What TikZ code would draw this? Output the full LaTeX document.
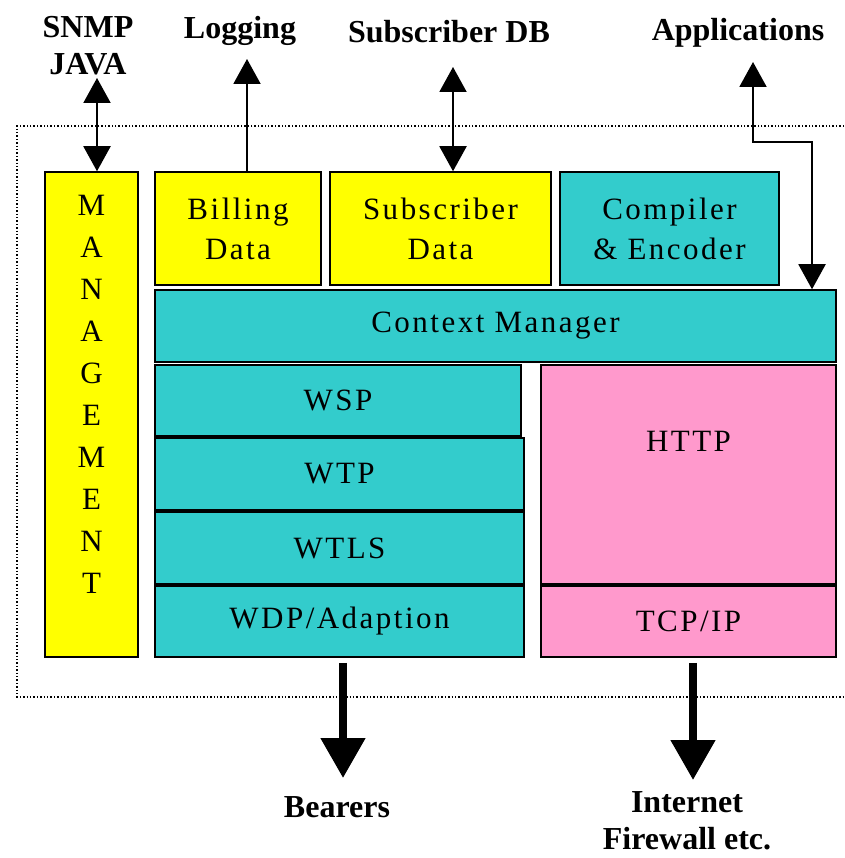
\documentclass[tikz,border=0pt]{standalone}
\usepackage{fontspec}
\setmainfont{Liberation Serif}
\newfontfamily\layerfont[LetterSpace=8]{Liberation Serif}
\usetikzlibrary{arrows.meta}

\definecolor{wapyellow}{RGB}{255,255,0}
\definecolor{wapteal}{RGB}{51,204,204}
\definecolor{wappink}{RGB}{255,153,204}

\begin{document}
\begin{tikzpicture}[x=1pt,y=-1pt,
        layer/.style={draw,line width=1.5pt,inner sep=0pt,align=center,
                      font=\fontsize{31}{40}\layerfont},
        outside/.style={align=center,font=\fontsize{32}{37}\selectfont\bfseries},
        thinline/.style={line width=2pt},
        headtip/.tip={Triangle[width=27pt,length=25pt]},
        fatarrow/.style={line width=8pt,-{Triangle[width=43pt,length=40pt]}}]
        \useasboundingbox (0,0) rectangle (844,858);

        \coordinate (snmpEnd) at (97,78);
        \coordinate (logEnd)  at (247,59);
        \coordinate (dbEnd)   at (453,67);
        \coordinate (appEnd)  at (753,62);
        \coordinate (appJog)  at (812,142);
        \coordinate (bearEnd) at (343,778);
        \coordinate (netEnd)  at (693,780);

        \draw[dotted,line width=1.4pt] (844,126) -- (17,126) -- (17,697) -- (844,697);

        \node[layer,fill=wapyellow,minimum width=93,minimum height=485] (mgmt) at (91.5,414.5) {};
        \node[align=center,inner sep=0pt,font=\fontsize{31}{42}\layerfont] (mgmttext) at (91.5,394)
              {M\\A\\N\\A\\G\\E\\M\\E\\N\\T};
        \node[layer,fill=wapyellow,minimum width=166,minimum height=113] (billing) at (238,228.5) {Billing\\Data};
        \node[layer,fill=wapyellow,minimum width=221,minimum height=113] (subs)    at (440.5,228.5) {Subscriber\\Data};
        \node[layer,fill=wapteal,minimum width=219,minimum height=113]   (comp)    at (669.5,228.5) {Compiler\\\& Encoder};
        \node[layer,fill=wapteal,minimum width=681,minimum height=72]    (ctx)     at (495.5,326) {Context Manager};
        \node[layer,fill=wapteal,minimum width=366,minimum height=71]    (wsp)     at (338,400.5) {WSP};
        \node[layer,fill=wapteal,minimum width=369,minimum height=72]    (wtp)     at (339.5,474) {WTP};
        \node[layer,fill=wapteal,minimum width=369,minimum height=72]    (wtls)    at (339.5,548) {WTLS};
        \node[layer,fill=wapteal,minimum width=369,minimum height=71]    (wdp)     at (339.5,621.5) {WDP/Adaption};
        \node[layer,fill=wappink,minimum width=295,minimum height=219,
              label={[yshift=33pt,font=\fontsize{31}{40}\layerfont]center:HTTP}] (http) at (688.5,474.5) {};
        \node[layer,fill=wappink,minimum width=295,minimum height=71]    (tcp)     at (688.5,621.5) {TCP/IP};

        \node[outside] (snmp)    at (88,46)   {SNMP\\JAVA};
        \node[outside] (logging) at (240,31)  {Logging};
        \node[outside] (subsdb)  at (449,32)  {Subscriber DB};
        \node[outside] (apps)    at (738,33)  {Applications};
        \node[outside] (bearers) at (337,807) {Bearers};
        \node[outside] (inet)    at (687,821) {Internet\\Firewall etc.};

        \draw[thinline,headtip-headtip] (snmpEnd) -- (snmpEnd |- mgmt.north);
        \draw[thinline,-headtip] (logEnd |- billing.north) -- (logEnd);
        \draw[thinline,headtip-headtip] (dbEnd) -- (dbEnd |- subs.north);
        \draw[thinline,headtip-headtip] (appEnd) |- (appJog) -- (appJog |- ctx.north);
        \draw[fatarrow,shorten <=5pt] (bearEnd |- wdp.south) -- (bearEnd);
        \draw[fatarrow,shorten <=5pt] (netEnd |- tcp.south) -- (netEnd);
    \end{tikzpicture}
\end{document}
